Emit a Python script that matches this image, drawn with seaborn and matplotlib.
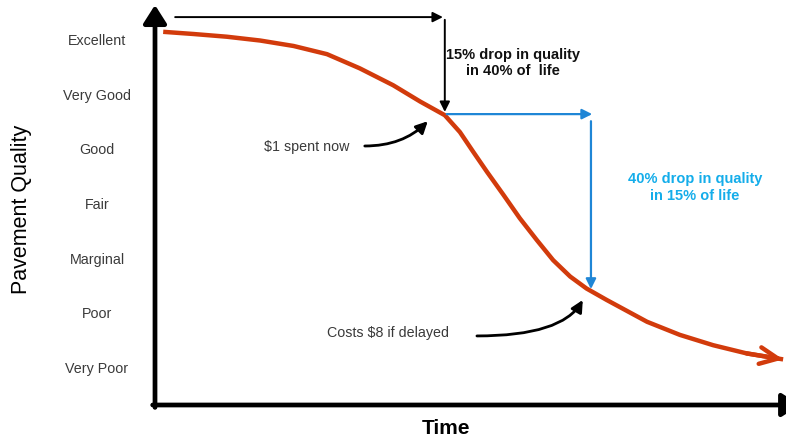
import matplotlib
matplotlib.use("Agg")
import matplotlib.pyplot as plt
import seaborn as sns
import pandas as pd

sns.set_theme(style="white")
plt.rcParams['font.family'] = ['Liberation Sans', 'DejaVu Sans']

# ---- data ----
quality_labels = ["Very Poor", "Poor", "Marginal", "Fair", "Good", "Very Good", "Excellent"]
quality_levels = [1, 2, 3, 4, 5, 6, 7]
time_vals = [1.3, 6.1, 11.4, 16.7, 22.0, 27.3, 32.5, 37.8, 42.1, 46.0, 48.4, 50.5,
             52.7, 55.3, 57.9, 60.6, 63.2, 65.9, 68.5, 71.7, 78.1, 83.3, 88.6, 93.9, 99.7]
quality_vals = [7.15, 7.11, 7.06, 6.99, 6.89, 6.74, 6.48, 6.17, 5.87, 5.62, 5.31, 4.95,
                4.58, 4.16, 3.73, 3.33, 2.96, 2.66, 2.44, 2.23, 1.83, 1.59, 1.40, 1.25, 1.14]

df = pd.DataFrame({"Time": time_vals, "Quality": quality_vals})

RED = "#d23b0c"
BLUE = "#1f86d6"
LIGHTBLUE = "#14adea"
GRAY = "#3a3a3a"

fig = plt.figure(figsize=(7.86, 4.41), dpi=100)
ax = fig.add_axes([155/786, 36/441, 630/786, 400/441])

sns.lineplot(data=df, x="Time", y="Quality", sort=False, color=RED, lw=3.2, ax=ax,
             solid_joinstyle='round', solid_capstyle='butt')
ax.annotate("", xy=(time_vals[-1], quality_vals[-1]),
            xytext=(time_vals[-2], quality_vals[-2]),
            arrowprops=dict(arrowstyle="->,head_length=13,head_width=6", color=RED,
                            lw=3.2, shrinkA=0, shrinkB=0, mutation_scale=1))

ax.set_xlim(0, 100)
ax.set_ylim(0.303, 7.642)
ax.set_xticks([])
ax.set_yticks(quality_levels)
ax.set_yticklabels(quality_labels)
ax.tick_params(axis='y', length=0, pad=41.8, labelsize=10.3, labelcolor=GRAY)
for lab in ax.get_yticklabels():
    lab.set_horizontalalignment('center')
for s in ax.spines.values():
    s.set_visible(False)

ax.set_ylabel("Pavement Quality", fontsize=15.5, color="black", labelpad=0)
ax.yaxis.set_label_coords(-(155-22)/630, 0.49)
ax.yaxis.label.set_verticalalignment('center')
ax.set_xlabel("Time", fontsize=15, fontweight="bold", color="black")
ax.xaxis.set_label_coords((446-155)/630, -(428-405)/400)
ax.xaxis.label.set_verticalalignment('center')

# axis arrows
ax.annotate("", xy=(0, 1.0), xytext=(0, -0.006), xycoords='axes fraction',
            textcoords='axes fraction',
            arrowprops=dict(arrowstyle="-|>,head_length=11,head_width=7", color="black",
                            lw=3.4, shrinkA=0, shrinkB=0, mutation_scale=1),
            annotation_clip=False)
ax.annotate("", xy=(1.024, 0), xytext=(-0.0037, 0), xycoords='axes fraction',
            textcoords='axes fraction',
            arrowprops=dict(arrowstyle="-|>,head_length=11,head_width=7", color="black",
                            lw=3.4, shrinkA=0, shrinkB=0, mutation_scale=1),
            annotation_clip=False)

# black bracket arrows
thin_black = dict(arrowstyle="-|>,head_length=6,head_width=3", color="black",
                  lw=1.4, shrinkA=0, shrinkB=0, mutation_scale=1)
ax.annotate("", xy=(45.7, 7.42), xytext=(3.2, 7.42), arrowprops=thin_black, annotation_clip=False)
ax.annotate("", xy=(46.0, 5.68), xytext=(46.0, 7.37), arrowprops=thin_black, annotation_clip=False)

# blue bracket arrows
thin_blue = dict(arrowstyle="-|>,head_length=6,head_width=3", color=BLUE,
                 lw=1.6, shrinkA=0, shrinkB=0, mutation_scale=1)
ax.annotate("", xy=(69.4, 5.64), xytext=(46.3, 5.64), arrowprops=thin_blue)
ax.annotate("", xy=(69.2, 2.43), xytext=(69.2, 5.51), arrowprops=thin_blue)

ax.text(56.8, 6.58, "15% drop in quality\nin 40% of  life", ha='center', va='center',
        fontsize=10.5, fontweight='bold', color="#111111", linespacing=1.25)
ax.text(85.7, 4.30, "40% drop in quality\nin 15% of life", ha='center', va='center',
        fontsize=10.5, fontweight='bold', color=LIGHTBLUE, linespacing=1.25)

# callouts
def curved(angleB):
    return dict(arrowstyle="-|>,head_length=7,head_width=3.5", color="black", lw=2.0,
                shrinkA=0, shrinkB=0, mutation_scale=1,
                connectionstyle=f"angle3,angleA=0,angleB={angleB}")

ax.text(24.0, 5.04, "$1 spent now", ha='center', va='center', fontsize=10.3, color=GRAY)
ax.annotate("", xy=(43.3, 5.51), xytext=(33.3, 5.055), arrowprops=curved(45))
ax.text(37.0, 1.62, "Costs $8 if delayed", ha='center', va='center', fontsize=10.3, color=GRAY)
ax.annotate("", xy=(67.9, 2.23), xytext=(51.1, 1.57), arrowprops=curved(60))

fig.savefig("out.png", dpi=100)
